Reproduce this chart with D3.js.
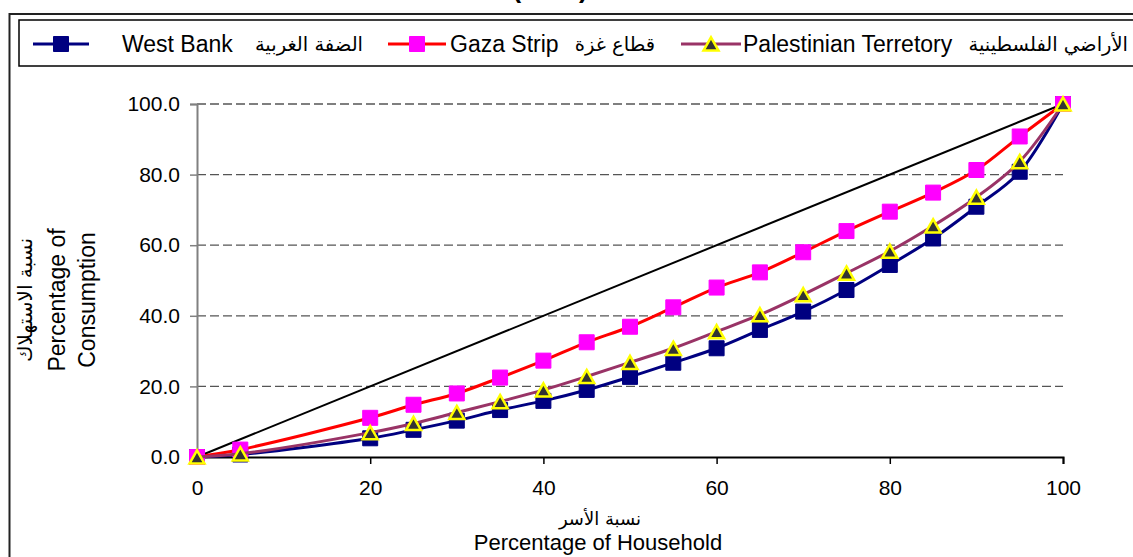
<!DOCTYPE html>
<html>
<head>
<meta charset="utf-8">
<script src="https://cdn.jsdelivr.net/npm/d3@7"></script>
<style>
  html, body { margin: 0; padding: 0; background: #fff; }
  svg { display: block; font-family: "Liberation Sans", Arial, "DejaVu Sans", sans-serif; }
</style>
</head>
<body>
<svg id="chart" width="1133" height="557"></svg>
<script>
// ---- data ----
const householdPct = [0, 5, 20, 25, 30, 35, 40, 45, 50, 55, 60, 65, 70, 75, 80, 85, 90, 95, 100];
const westBank     = [0, 0.7, 5.3, 7.7, 10.3, 13.3, 15.9, 19.0, 22.7, 26.7, 30.8, 36.0, 41.2, 47.3, 54.4, 61.9, 70.9, 80.8, 100];
const gazaStrip    = [0, 2.1, 11.1, 14.8, 18.0, 22.5, 27.3, 32.5, 36.9, 42.4, 48.0, 52.3, 58.0, 64.0, 69.5, 74.9, 81.3, 90.8, 100];
const palTerritory = [0, 0.9, 6.9, 9.5, 12.6, 15.7, 19.0, 22.8, 26.8, 30.8, 35.5, 40.3, 46.0, 52.1, 58.3, 65.5, 73.6, 83.7, 100];
const equalityX    = [0, 100];
const equalityY    = [0, 100];
const seriesNamesEn = ["West Bank", "Gaza Strip", "Palestinian Terretory"];
const seriesNamesAr = ["الضفة الغربية", "قطاع غزة", "الأراضي الفلسطينية"];
const xTicks = [0, 20, 40, 60, 80, 100];
const yTicks = [0, 20, 40, 60, 80, 100];
const titleText = "(2009)";
const xTitleAr = "نسبة الأسر";
const xTitleEn = "Percentage of Household";
const yTitleAr = "نسبة الاستهلاك";
const yTitleEn1 = "Percentage of";
const yTitleEn2 = "Consumption";

// ---- layout ----
const svg = d3.select("#chart");
const W = 1133, H = 557;
svg.append("rect").attr("width", W).attr("height", H).attr("fill", "#fff");

const x = d3.scaleLinear().domain([0, 100]).range([197, 1063]);
const y = d3.scaleLinear().domain([0, 100]).range([457, 104]);

// title (mostly above the visible area)
svg.append("text").attr("x", 550).attr("y", -2).attr("text-anchor", "middle")
  .attr("font-size", 26).attr("font-weight", "bold").text(titleText);

// outer chart border
svg.append("rect").attr("x", 9.5).attr("y", 14).attr("width", W + 20).attr("height", H + 20)
  .attr("fill", "none").attr("stroke", "#222").attr("stroke-width", 2);

// gridlines
svg.append("g").selectAll("line").data(yTicks.filter(d => d > 0)).join("line")
  .attr("x1", x(0)).attr("x2", x(100))
  .attr("y1", d => y(d)).attr("y2", d => y(d))
  .attr("stroke", "#555").attr("stroke-width", 1.3).attr("stroke-dasharray", "9,4");

// axes
const yAxis = svg.append("g").attr("transform", `translate(${x(0)},0)`)
  .call(d3.axisLeft(y).tickValues(yTicks).tickFormat(d3.format(".1f")).tickSize(7).tickPadding(10));
yAxis.select(".domain").attr("stroke", "#808080").attr("stroke-width", 2);
yAxis.selectAll(".tick line").attr("stroke", "#808080").attr("stroke-width", 1.5);
yAxis.selectAll(".tick text").attr("font-size", 21).attr("fill", "#000")
  .attr("font-family", "Liberation Sans, Arial, sans-serif");

const xAxis = svg.append("g").attr("transform", `translate(0,${y(0)})`)
  .call(d3.axisBottom(x).tickValues(xTicks).tickFormat(d3.format("d")).tickSize(7).tickPadding(16));
xAxis.select(".domain").attr("stroke", "#000").attr("stroke-width", 2);
xAxis.selectAll(".tick line").attr("stroke", "#000").attr("stroke-width", 1.5);
xAxis.selectAll(".tick text").attr("font-size", 21).attr("fill", "#000")
  .attr("font-family", "Liberation Sans, Arial, sans-serif");
yAxis.raise();

// axis titles
svg.append("text").attr("x", 600).attr("y", 525).attr("text-anchor", "middle")
  .attr("font-size", 18).attr("font-family", "DejaVu Sans, sans-serif").text(xTitleAr);
svg.append("text").attr("x", 598).attr("y", 550).attr("text-anchor", "middle")
  .attr("font-size", 22).text(xTitleEn);

const yl = svg.append("g").attr("transform", "translate(0,300)");
yl.append("text").attr("transform", "translate(32,0) rotate(-90)").attr("text-anchor", "middle")
  .attr("font-size", 20).attr("font-family", "DejaVu Sans, sans-serif").text(yTitleAr);
yl.append("text").attr("transform", "translate(65,0) rotate(-90)").attr("text-anchor", "middle")
  .attr("font-size", 23).text(yTitleEn1);
yl.append("text").attr("transform", "translate(95,0) rotate(-90)").attr("text-anchor", "middle")
  .attr("font-size", 23).text(yTitleEn2);

// equality line
const eqData = equalityX.map((d, i) => [d, equalityY[i]]);
svg.append("path").datum(eqData)
  .attr("d", d3.line().x(d => x(d[0])).y(d => y(d[1])))
  .attr("fill", "none").attr("stroke", "#000").attr("stroke-width", 2);

// series
const series = [
  { values: westBank, line: "#000080", marker: "square", fill: "#000080", stroke: "#000080" },
  { values: gazaStrip, line: "#FF0000", marker: "square", fill: "#FF00FF", stroke: "#FF00FF" },
  { values: palTerritory, line: "#993366", marker: "triangle", fill: "#333333", stroke: "#FFFF00" }
];

const lineGen = d3.line().x(d => x(d[0])).y(d => y(d[1])).curve(d3.curveCatmullRom.alpha(0.5));
const sqSym = d3.symbol().type(d3.symbolSquare).size(15 * 15);

function triPath(s) {
  const h = s * 0.88;
  return `M0,${-h / 2}L${s / 2},${h / 2}L${-s / 2},${h / 2}Z`;
}

function drawMarker(g, type, fill, stroke) {
  if (type === "square") {
    g.append("path").attr("d", sqSym()).attr("fill", fill).attr("stroke", stroke).attr("stroke-width", 1);
  } else {
    g.append("path").attr("d", triPath(15)).attr("fill", fill).attr("stroke", stroke)
      .attr("stroke-width", 2.5).attr("stroke-linejoin", "miter");
  }
}

series.forEach(s => {
  const pts = householdPct.map((d, i) => [d, s.values[i]]);
  const g = svg.append("g");
  g.append("path").datum(pts).attr("d", lineGen)
    .attr("fill", "none").attr("stroke", s.line).attr("stroke-width", 3);
  pts.forEach(p => {
    const m = g.append("g").attr("transform", `translate(${x(p[0])},${y(p[1])})`);
    drawMarker(m, s.marker, s.fill, s.stroke);
  });
});

// legend
svg.append("rect").attr("x", 19).attr("y", 20).attr("width", W + 20).attr("height", 46)
  .attr("fill", "#fff").attr("stroke", "#000").attr("stroke-width", 1.5);

const legendItems = [
  { lineX: [33, 89], textX: 122, arEnd: 363 },
  { lineX: [388, 446], textX: 450, arEnd: 655 },
  { lineX: [681, 741], textX: 743, arEnd: 1128 }
];
legendItems.forEach((it, i) => {
  const s = series[i];
  const g = svg.append("g");
  g.append("line").attr("x1", it.lineX[0]).attr("x2", it.lineX[1]).attr("y1", 44).attr("y2", 44)
    .attr("stroke", s.line).attr("stroke-width", 3);
  const m = g.append("g").attr("transform", `translate(${(it.lineX[0] + it.lineX[1]) / 2},44)`);
  drawMarker(m, s.marker, s.fill, s.stroke);
  g.append("text").attr("x", it.textX).attr("y", 52).attr("font-size", 23).text(seriesNamesEn[i]);
  g.append("text").attr("x", it.arEnd).attr("y", 51).attr("text-anchor", "end")
    .attr("font-size", 19.5).attr("font-family", "DejaVu Sans, sans-serif").text(seriesNamesAr[i]);
});
</script>
</body>
</html>
